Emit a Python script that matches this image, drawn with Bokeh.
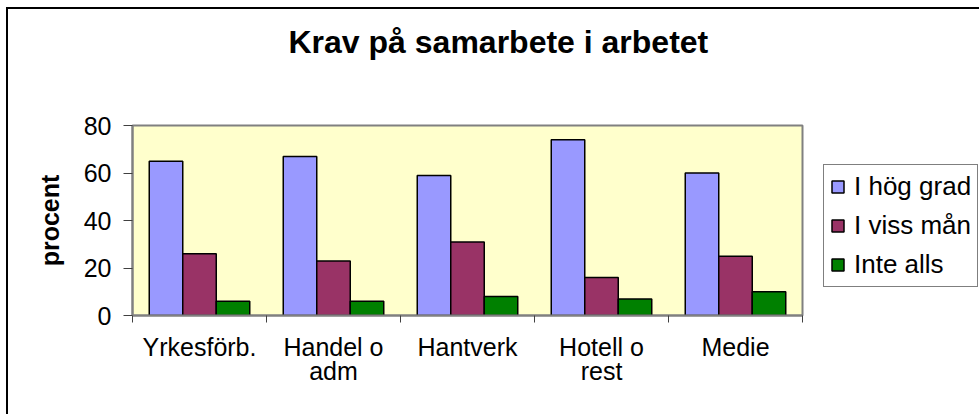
from bokeh.plotting import figure
from bokeh.models import (ColumnDataSource, Range1d, LinearAxis, FixedTicker,
                          Legend, LegendItem, Title)
from bokeh.embed import file_html
from bokeh.resources import INLINE

# ---- data ----
categories = ["Yrkesförb.", "Handel o\nadm", "Hantverk", "Hotell o\nrest", "Medie"]
series_names = ["I hög grad", "I viss mån", "Inte alls"]
hog_grad = [65, 67, 59, 74, 60]
viss_man = [26, 23, 31, 16, 25]
inte_alls = [6, 6, 8, 7, 10]
y_ticks = [0, 20, 40, 60, 80]
title_text = "Krav på samarbete i arbetet"
y_label = "procent"

colors = ["#9999FF", "#993366", "#008000"]
FONT = "Liberation Sans"

p = figure(frame_width=670, frame_height=190, output_backend="svg", toolbar_location=None,
           x_range=Range1d(0, len(categories)), y_range=Range1d(0, 80),
           x_axis_type=None, y_axis_type=None,
           min_border_left=124, min_border_right=177,
           min_border_top=116, min_border_bottom=99)
p.margin = (7, 0, 0, 6)

p.background_fill_color = "#FFFFCC"
p.border_fill_color = None
p.outline_line_color = "#808080"
p.outline_line_width = 2
p.styles = {"border-left": "2px solid #000000", "border-top": "2px solid #000000"}

# bars
bar_w = 0.25
offsets = [-0.25, 0.0, 0.25]
renderers = []
for vals, off, col in zip([hog_grad, viss_man, inte_alls], offsets, colors):
    src = ColumnDataSource(dict(x=[i + 0.5 + off for i in range(len(categories))], top=vals))
    r = p.vbar(x="x", top="top", bottom=0, width=bar_w, source=src,
               fill_color=col, line_color="black", line_width=1.5)
    renderers.append(r)

# y axis
yax = LinearAxis(ticker=FixedTicker(ticks=y_ticks, minor_ticks=[]))
yax.axis_label = y_label
yax.axis_label_text_font = FONT
yax.axis_label_text_font_style = "bold"
yax.axis_label_text_font_size = "25px"
yax.axis_label_text_color = "black"
yax.axis_label_standoff = 17
yax.major_label_text_font = FONT
yax.major_label_text_font_size = "25px"
yax.major_label_text_color = "black"
yax.major_label_standoff = 12
yax.major_tick_out = 9
yax.major_tick_in = 0
yax.major_tick_line_color = "#404040"
yax.axis_line_color = "#808080"
yax.axis_line_width = 2
p.add_layout(yax, "left")

# x axis: labels at centres, ticks at boundaries
xax = LinearAxis(ticker=FixedTicker(ticks=[i + 0.5 for i in range(len(categories))],
                                    minor_ticks=list(range(len(categories) + 1))))
xax.major_label_overrides = {i + 0.5: c for i, c in enumerate(categories)}
xax.major_label_text_font = FONT
xax.major_label_text_font_size = "25px"
xax.major_label_text_color = "black"
xax.major_label_text_line_height = 0.88
xax.major_label_standoff = 10
xax.major_tick_line_color = None
xax.major_tick_out = 0
xax.major_tick_in = 0
xax.minor_tick_line_color = "#404040"
xax.minor_tick_out = 7
xax.minor_tick_in = 0
xax.axis_line_color = "#808080"
xax.axis_line_width = 2
p.add_layout(xax, "below")

# grid
p.ygrid.ticker = FixedTicker(ticks=y_ticks)
p.ygrid.grid_line_color = "black"
p.ygrid.grid_line_width = 1
p.xgrid.visible = False

# title
p.title.text = title_text
p.title.text_font = FONT
p.title.text_font_style = "bold"
p.title.text_font_size = "32px"
p.title.text_color = "black"
p.title.align = "left"
p.title.offset = 156
p.title.standoff = 0

# spacer between title and plot frame
spacer = Title(text=" ", text_font_size="1px", standoff=63)
p.add_layout(spacer, "above")

# legend
legend = Legend(items=[LegendItem(label=n, renderers=[r]) for n, r in zip(series_names, renderers)],
                location=(21, 28))
legend.label_text_font = FONT
legend.label_text_font_size = "26px"
legend.label_text_color = "black"
legend.glyph_width = 15
legend.glyph_height = 15
legend.label_standoff = 9
legend.padding = 6
legend.spacing = 8
legend.margin = 0
legend.border_line_color = "black"
legend.border_line_width = 1
legend.background_fill_color = "white"
p.add_layout(legend, "right")

open("out.html", "w").write(file_html(p, INLINE))
